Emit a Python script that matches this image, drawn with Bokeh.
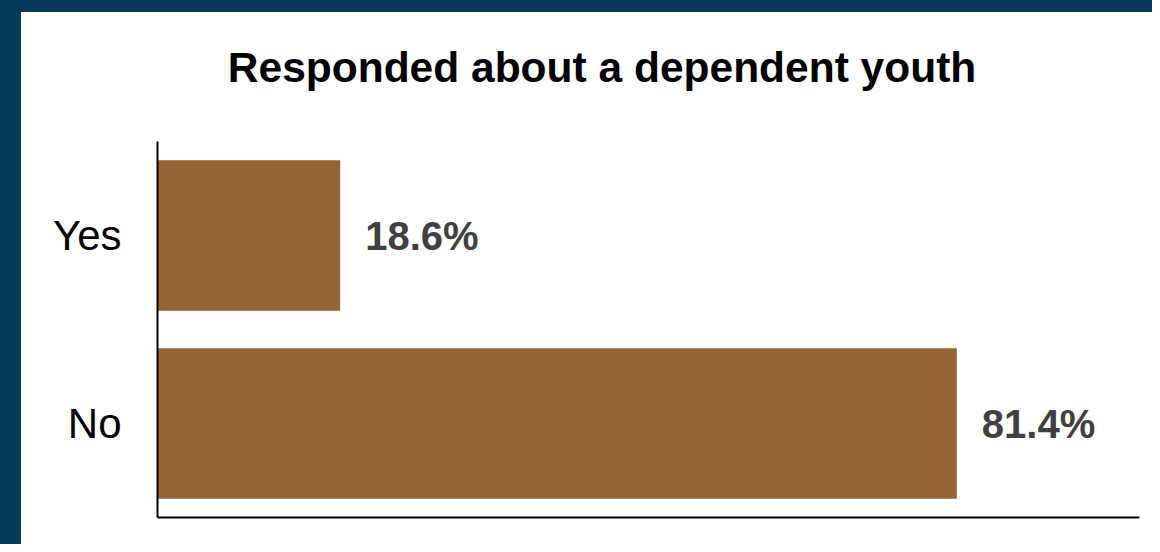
from bokeh.plotting import figure
from bokeh.models import ColumnDataSource, FactorRange, Range1d, FixedTicker, Spacer
from bokeh.layouts import row, column
from bokeh.core.properties import value
from bokeh.embed import file_html
from bokeh.resources import INLINE

# data
categories = ["No", "Yes"]
percents = [81.4, 18.6]
pct_labels = ["81.4%", "18.6%"]
title_text = "Responded about a dependent youth"

BG = "#063c5a"
BAR = "#956434"
FONT = "Liberation Sans"

# ---- title strip (its own small svg figure) ----
TW, TH = 1131, 100
tf = figure(width=TW, height=TH, x_range=Range1d(0, TW), y_range=Range1d(0, TH),
            x_axis_location=None, y_axis_location=None,
            output_backend="svg", toolbar_location=None,
            min_border_left=0, min_border_right=0,
            min_border_top=0, min_border_bottom=0)
tf.grid.visible = False
tf.outline_line_color = None
tf.background_fill_color = "white"
tf.border_fill_color = "white"
tf.text(x=[512], y=[45], text=[title_text], text_align="center",
        text_baseline="alphabetic", text_font=value(FONT),
        text_font_style="bold", text_font_size="42.5px", text_color="black")

# ---- main chart ----
src = ColumnDataSource(dict(cat=categories, val=percents, lab=pct_labels))

p = figure(
    width=TW, height=532 - TH,
    y_range=FactorRange(*categories),
    x_range=Range1d(0, 100),
    output_backend="svg", toolbar_location=None,
    min_border_left=136, min_border_right=13,
    min_border_top=129 - TH, min_border_bottom=27,
)
p.background_fill_color = "white"
p.border_fill_color = "white"
p.outline_line_color = None
p.xgrid.visible = False
p.ygrid.visible = False

p.hbar(y="cat", right="val", left=0, height=0.8, source=src,
       fill_color=BAR, line_color=None)
p.text(x="val", y="cat", text="lab", source=src, x_offset=25,
       text_align="left", text_baseline="middle",
       text_font=value(FONT), text_font_style="bold",
       text_font_size="40px", text_color="#404040")

p.xaxis.ticker = FixedTicker(ticks=[])
p.xaxis.axis_line_color = "black"
p.xaxis.axis_line_width = 2
p.xaxis.major_tick_line_color = None
p.xaxis.minor_tick_line_color = None

p.yaxis.axis_line_color = "black"
p.yaxis.axis_line_width = 2
p.yaxis.major_tick_line_color = None
p.yaxis.minor_tick_line_color = None
p.yaxis.major_tick_out = 0
p.yaxis.major_tick_in = 0
p.yaxis.major_label_standoff = 36
p.yaxis.major_label_text_font = FONT
p.yaxis.major_label_text_font_size = "42px"
p.yaxis.major_label_text_color = "black"

left_band = Spacer(width=21, height=544, styles={"background-color": BG})
top_band = Spacer(width=TW, height=12, styles={"background-color": BG})
layout = row(left_band, column(top_band, tf, p, spacing=0), spacing=0)

html = file_html(layout, INLINE)
html = html.replace("<body>", '<body style="background-color:%s;">' % BG, 1)
open("out.html", "w").write(html)
